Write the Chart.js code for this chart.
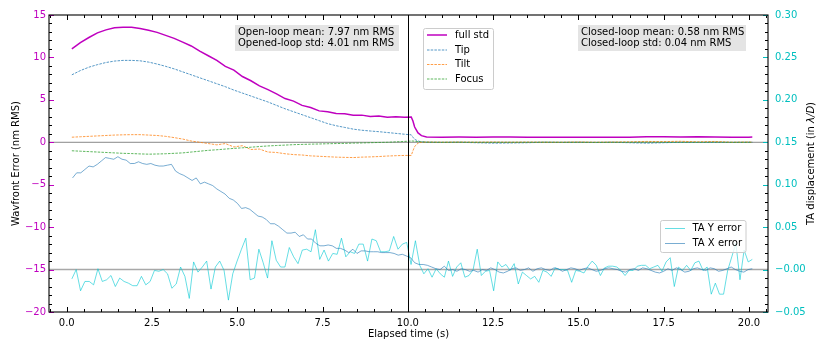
<!DOCTYPE html>
<html lang="en">
<head>
<meta charset="UTF-8">
<title>Wavefront error vs elapsed time</title>
<style>
    body { margin: 0; padding: 0; background: #fff; }
    #chart { display: block; }
</style>
<script src="https://cdn.jsdelivr.net/npm/chart.js"></script>
</head>
<body>
<canvas id="chart" width="830" height="351"></canvas>
<script>
    // wavefront modes (nm RMS), sampled along wfeTime
    const wfeTime = [0.15, 0.4, 0.65, 0.9, 1.15, 1.4, 1.65, 1.9, 2.15, 2.4, 2.65, 2.9, 3.15, 3.4, 3.65, 3.9,
        4.15, 4.4, 4.65, 4.9, 5.15, 5.4, 5.65, 5.9, 6.15, 6.4, 6.65, 6.9, 7.15, 7.4, 7.65, 7.9, 8.15, 8.4,
        8.65, 8.9, 9.15, 9.4, 9.65, 9.9, 10.1,
        10.15, 10.2, 10.3, 10.4, 10.55,
        11, 11.5, 12, 12.5, 13, 13.5, 14, 14.5, 15, 15.5, 16, 16.5, 17, 17.5, 18, 18.5, 19, 19.5, 20, 20.1];

    const fullStd = [11.0, 11.75, 12.35, 12.9, 13.25, 13.5, 13.57, 13.55, 13.42, 13.2, 12.95, 12.6, 12.25, 11.8,
        11.35, 10.75, 10.2, 9.65, 8.95, 8.5, 7.75, 7.25, 6.65, 6.2, 5.7, 5.15, 4.85, 4.35, 4.1, 3.7, 3.6, 3.4,
        3.35, 3.2, 3.2, 3.05, 3.1, 2.95, 3.0, 2.95, 2.98,
        2.5, 1.8, 1.1, 0.78, 0.63,
        0.6, 0.61, 0.6, 0.62, 0.63, 0.6, 0.6, 0.58, 0.58, 0.58, 0.6, 0.6, 0.66, 0.66, 0.63, 0.65, 0.62, 0.6, 0.6, 0.62];

    const tip = [7.95, 8.45, 8.85, 9.15, 9.4, 9.57, 9.65, 9.65, 9.6, 9.45, 9.22, 8.95, 8.65, 8.3, 7.95, 7.6,
        7.25, 6.9, 6.55, 6.15, 5.8, 5.45, 5.1, 4.75, 4.35, 3.95, 3.6, 3.25, 2.9, 2.55, 2.2, 1.95, 1.75, 1.55,
        1.42, 1.33, 1.25, 1.15, 1.05, 0.95, 0.88,
        0.6, 0.35, 0.15, 0.05, 0.0,
        -0.02, 0.0, -0.05, -0.1, -0.08, -0.05, 0.0, -0.02, 0.0, -0.03, 0.0, -0.05, -0.1, -0.05, 0.0, -0.02, 0.0, -0.02, 0.0, 0.0];

    const tilt = [0.6, 0.65, 0.7, 0.75, 0.8, 0.85, 0.88, 0.9, 0.9, 0.85, 0.8, 0.7, 0.55, 0.38, 0.15, 0.0,
        -0.15, -0.3, -0.15, -0.55, -0.4, -0.85, -0.8, -1.15, -1.2, -1.35, -1.45, -1.5, -1.6, -1.65, -1.7, -1.75,
        -1.78, -1.8, -1.75, -1.72, -1.68, -1.62, -1.58, -1.55, -1.55,
        -1.0, -0.5, -0.1, 0.0, 0.02,
        0.0, 0.02, 0.0, 0.03, 0.0, 0.02, 0.0, 0.0, 0.03, 0.0, 0.02, 0.05, 0.1, 0.08, 0.12, 0.05, 0.1, 0.0, 0.03, 0.0];

    const focus = [-1.0, -1.05, -1.1, -1.15, -1.2, -1.25, -1.3, -1.33, -1.37, -1.4, -1.38, -1.35, -1.3, -1.25,
        -1.15, -1.05, -0.95, -0.88, -0.8, -0.72, -0.65, -0.58, -0.5, -0.43, -0.38, -0.33, -0.28, -0.25, -0.22,
        -0.2, -0.17, -0.15, -0.13, -0.1, -0.08, -0.05, -0.02, 0.0, 0.05, 0.1, 0.15,
        0.15, 0.12, 0.08, 0.05, 0.02,
        0.0, 0.01, 0.0, -0.01, 0.0, 0.0, 0.01, 0.0, 0.0, -0.01, 0.0, 0.0, 0.01, 0.0, 0.0, 0.0, 0.01, 0.0, 0.0, 0.0];

    // tip/tilt tracking error (lambda/D), open loop then closed loop
    const taYOpen = [-0.011, 0.000, -0.025, -0.014, -0.014, -0.018, 0.001, -0.014, -0.012, -0.007,
        -0.020, -0.010, -0.014, -0.016, -0.019, -0.019, -0.008, -0.018, -0.014, -0.001,
        -0.002, 0.000, -0.005, -0.022, -0.017, 0.003, -0.008, -0.034, 0.009, -0.003,
        0.003, 0.010, -0.023, 0.003, 0.010, -0.001, -0.036, -0.005, 0.010, 0.024,
        0.037, -0.012, -0.010, 0.024, 0.008, -0.010, 0.034, 0.011, 0.003, 0.003,
        0.026, 0.015, 0.007, 0.023, 0.024, 0.021, 0.047, 0.012, 0.023, 0.010,
        0.019, 0.018, 0.037, 0.015, 0.021, 0.019, 0.030, 0.030, 0.010, 0.036,
        0.034, 0.021, 0.021, 0.022, 0.039, 0.024, 0.030, 0.032, 0.006, 0.034, 0.005];
    const taYClosed = [-0.005, 0.001, -0.009, 0.001, -0.005, -0.009, 0.010, -0.008, 0.003, 0.008,
        -0.009, -0.007, 0.000, 0.024, -0.007, -0.002, -0.001, -0.025, 0.009, 0.003,
        0.006, -0.001, 0.007, -0.017, -0.003, -0.007, -0.011, -0.008, -0.015, -0.001,
        -0.003, -0.008, 0.002, 0.000, 0.000, -0.001, -0.015, -0.001, -0.002, -0.004,
        0.004, 0.010, 0.005, -0.007, 0.002, 0.004, 0.004, 0.003, -0.001, -0.007,
        -0.001, -0.001, 0.004, 0.005, 0.005, 0.001, 0.003, 0.005, -0.002, 0.009,
        0.014, -0.020, 0.003, -0.001, 0.005, -0.001, 0.008, 0.010, -0.001, 0.003,
        -0.029, -0.016, -0.029, -0.029, -0.001, 0.015, 0.031, -0.012, 0.023, 0.009, 0.012];

    const taXOpen = [0.108, 0.114, 0.114, 0.118, 0.122, 0.121, 0.124, 0.128, 0.132, 0.131,
        0.130, 0.133, 0.130, 0.129, 0.125, 0.125, 0.127, 0.125, 0.124, 0.125,
        0.123, 0.122, 0.122, 0.123, 0.124,
        0.116, 0.113, 0.111, 0.108, 0.105, 0.108, 0.101, 0.103, 0.101, 0.099,
        0.095, 0.092, 0.089, 0.084, 0.082, 0.078, 0.072, 0.073, 0.071, 0.067,
        0.063, 0.062, 0.059, 0.054, 0.054, 0.051, 0.047, 0.043, 0.043, 0.044,
        0.039, 0.041, 0.036, 0.036, 0.031, 0.028, 0.028, 0.029, 0.028, 0.025,
        0.025, 0.023, 0.020, 0.024, 0.019, 0.022, 0.022, 0.021, 0.021, 0.021,
        0.020, 0.020, 0.020, 0.019, 0.017, 0.018, 0.016];
    const taXClosed = [0.014, 0.008, 0.006, 0.006, 0.005, 0.003, 0.001, 0.000, 0.004, -0.001,
        0.000, -0.002, 0.001, 0.000, -0.002, -0.001, -0.003, 0.000, -0.001, 0.002,
        0.000, -0.003, -0.004, -0.002, 0.001, 0.002, -0.001, 0.000, 0.002, -0.002,
        0.001, 0.002, 0.000, -0.001, 0.002, 0.001, -0.002, 0.000, 0.002, 0.001,
        -0.001, 0.001, 0.002, 0.000, -0.002, -0.001, 0.001, 0.002, 0.001, 0.000,
        -0.002, -0.003, 0.000, 0.001, -0.001, 0.002, 0.001, -0.001, -0.003, -0.004,
        -0.002, 0.001, -0.001, 0.002, 0.000, -0.003, -0.002, 0.001, 0.002, 0.000,
        -0.001, 0.002, 0.001, -0.002, -0.001, 0.001, 0.003, 0.000, -0.002, -0.003, 0.000, 0.001];

    const openStats = ['Open-loop mean: 7.97 nm RMS', 'Opened-loop std: 4.01 nm RMS'];
    const closedStats = ['Closed-loop mean: 0.58 nm RMS', 'Closed-loop std: 0.04 nm RMS'];
    const loopCloseTime = 10.0;

    // sensor samples are evenly spaced in time
    function evenTimes(t0, t1, n) {
        const out = [];
        for (let i = 0; i < n; i++) out.push(t0 + (t1 - t0) * i / (n - 1));
        return out;
    }
    const taYTime = evenTimes(0.15, 10.35, taYOpen.length).concat(evenTimes(10.47, 20.1, taYClosed.length));
    const taXTime = evenTimes(0.17, 9.96, taXOpen.length).concat(evenTimes(10.08, 20.1, taXClosed.length));
    const taYError = taYOpen.concat(taYClosed);
    const taXError = taXOpen.concat(taXClosed);

    const pts = (xs, ys) => xs.map((x, i) => ({ x: x, y: ys[i] }));

    const MAGENTA = '#bf00bf';
    const TEAL = '#00bfbf';
    const FONT = 'DejaVu Sans';

    function line(label, xs, ys, axis, color, width, dash) {
        return {
            label: label, data: pts(xs, ys), yAxisID: axis, showLine: true,
            borderColor: color, borderWidth: width, borderDash: dash || [],
            pointRadius: 0, fill: false, tension: 0
        };
    }

    // first dataset is drawn on top
    const datasets = [
        line('TA X error', taXTime, taXError, 'y2', 'rgba(31,119,180,0.6)', 1),
        line('TA Y error', taYTime, taYError, 'y2', 'rgba(0,200,210,0.6)', 1),
        line('Focus', wfeTime, focus, 'y', 'rgba(44,160,44,0.85)', 0.9, [2.5, 1.2]),
        line('Tilt', wfeTime, tilt, 'y', 'rgba(255,127,14,0.85)', 0.9, [2.5, 1.2]),
        line('Tip', wfeTime, tip, 'y', 'rgba(31,119,180,0.85)', 0.9, [2.5, 1.2]),
        line('full std', wfeTime, fullStd, 'y', MAGENTA, 1.5)
    ];

    function strokeLine(ctx, x1, y1, x2, y2) {
        ctx.beginPath();
        ctx.moveTo(x1, y1);
        ctx.lineTo(x2, y2);
        ctx.stroke();
    }

    function drawLegend(ctx, box, labels, rows, lineX, textX) {
        ctx.save();
        ctx.fillStyle = 'rgba(255,255,255,0.8)';
        ctx.strokeStyle = '#cccccc';
        ctx.lineWidth = 1;
        ctx.beginPath();
        ctx.roundRect(box[0], box[1], box[2] - box[0], box[3] - box[1], 2);
        ctx.fill();
        ctx.stroke();
        ctx.font = '10px "' + FONT + '"';
        ctx.textBaseline = 'middle';
        labels.forEach((lab, i) => {
            const ds = datasets.find(d => d.label === lab);
            ctx.strokeStyle = ds.borderColor;
            ctx.lineWidth = ds.borderWidth;
            ctx.setLineDash(ds.borderDash);
            strokeLine(ctx, lineX[0], rows[i], lineX[1], rows[i]);
            ctx.setLineDash([]);
            ctx.fillStyle = '#000';
            ctx.fillText(lab, textX, rows[i]);
        });
        ctx.restore();
    }

    function drawStatBox(ctx, box, lines) {
        ctx.save();
        ctx.fillStyle = '#e4e4e4';
        ctx.fillRect(box[0], box[1], box[2] - box[0], box[3] - box[1]);
        ctx.fillStyle = '#000';
        ctx.font = '10px "' + FONT + '"';
        ctx.textBaseline = 'middle';
        ctx.fillText(lines[0], box[0] + 3, box[1] + 7.5);
        ctx.fillText(lines[1], box[0] + 3, box[1] + 18);
        ctx.restore();
    }

    const decorations = {
        id: 'decorations',
        beforeDatasetsDraw(chart) {
            const { ctx, chartArea: a, scales } = chart;
            ctx.save();
            ctx.strokeStyle = '#888888';
            ctx.lineWidth = 1;
            strokeLine(ctx, a.left, scales.y.getPixelForValue(0), a.right, scales.y.getPixelForValue(0));
            ctx.strokeStyle = '#a8a8a8';
            ctx.lineWidth = 1.5;
            strokeLine(ctx, a.left, scales.y2.getPixelForValue(0), a.right, scales.y2.getPixelForValue(0));
            ctx.restore();
        },
        afterDatasetsDraw(chart) {
            const { ctx, chartArea: a, scales } = chart;
            const { x, y, y2 } = scales;
            ctx.save();

            // loop closing instant
            ctx.strokeStyle = '#000';
            ctx.lineWidth = 1;
            const xc = Math.round(x.getPixelForValue(loopCloseTime)) + 0.5;
            strokeLine(ctx, xc, a.top, xc, a.bottom);

            // inward ticks
            ctx.lineWidth = 1;
            for (let i = -1; i <= 41; i++) {
                const v = i * 0.5;
                if (v < x.min || v > x.max) continue;
                const px = Math.round(x.getPixelForValue(v)) + 0.5;
                const len = i % 5 === 0 ? 5 : 3;
                ctx.strokeStyle = '#000';
                strokeLine(ctx, px, a.bottom, px, a.bottom - len);
                strokeLine(ctx, px, a.top, px, a.top + len);
            }
            for (let v = -20; v <= 15; v++) {
                const py = Math.round(y.getPixelForValue(v)) + 0.5;
                const major = v % 5 === 0;
                ctx.strokeStyle = major ? MAGENTA : '#000';
                strokeLine(ctx, a.left, py, a.left + (major ? 5 : 3), py);
            }
            for (let i = -5; i <= 30; i++) {
                const py = Math.round(y2.getPixelForValue(i / 100)) + 0.5;
                const major = i % 5 === 0;
                ctx.strokeStyle = major ? TEAL : '#000';
                strokeLine(ctx, a.right, py, a.right - (major ? 5 : 3), py);
            }

            // frame
            ctx.strokeStyle = '#000';
            ctx.lineWidth = 1.1;
            ctx.strokeRect(a.left, a.top, a.right - a.left, a.bottom - a.top);

            // rotated axis titles
            const cy = (a.top + a.bottom) / 2;
            ctx.fillStyle = '#000';
            ctx.textBaseline = 'middle';
            ctx.font = '10px "' + FONT + '"';
            ctx.save();
            ctx.translate(16, cy);
            ctx.rotate(-Math.PI / 2);
            ctx.textAlign = 'center';
            ctx.fillText('Wavfront Error (nm RMS)', 0, 0);
            ctx.restore();

            const p1 = 'TA displacement (in ', p2 = '\u03bb/D', p3 = ')';
            const italic = 'italic 10px "' + FONT + '"';
            const plain = '10px "' + FONT + '"';
            ctx.font = plain;
            const w1 = ctx.measureText(p1).width, w3 = ctx.measureText(p3).width;
            ctx.font = italic;
            const w2 = ctx.measureText(p2).width;
            ctx.save();
            ctx.translate(811, cy);
            ctx.rotate(-Math.PI / 2);
            let sx = -(w1 + w2 + w3) / 2;
            ctx.font = plain; ctx.fillText(p1, sx, 0); sx += w1;
            ctx.font = italic; ctx.fillText(p2, sx, 0); sx += w2;
            ctx.font = plain; ctx.fillText(p3, sx, 0);
            ctx.restore();

            drawStatBox(ctx, [235, 25, 399, 51], openStats);
            drawStatBox(ctx, [578, 25, 746, 51], closedStats);
            drawLegend(ctx, [423.5, 28.5, 493.5, 89.5], ['full std', 'Tip', 'Tilt', 'Focus'],
                [35, 50, 64.5, 79], [427, 447], 455);
            drawLegend(ctx, [660.5, 220.5, 746, 252.5], ['TA Y error', 'TA X error'],
                [228.5, 243.5], [665, 685], 692.5);
            ctx.restore();
        }
    };

    const tickFont = { family: FONT, size: 10 };
    const minus = s => s.replace('-', '\u2212');

    new Chart(document.getElementById('chart'), {
        type: 'scatter',
        data: { datasets: datasets },
        options: {
            responsive: false,
            animation: false,
            layout: { padding: { top: 15, left: 0, right: 0, bottom: 0 } },
            plugins: { legend: { display: false }, tooltip: { enabled: false } },
            scales: {
                x: {
                    type: 'linear', min: -0.52, max: 20.56,
                    afterFit: s => { s.height = 39; },
                    grid: { display: false, drawTicks: false },
                    border: { display: false },
                    ticks: {
                        stepSize: 2.5, includeBounds: false, padding: 5, color: '#000', font: tickFont,
                        maxRotation: 0, autoSkip: false, callback: v => v.toFixed(1)
                    },
                    title: { display: true, text: 'Elapsed time (s)', color: '#000', font: tickFont, padding: { top: 0, bottom: 11 } }
                },
                y: {
                    position: 'left', min: -20, max: 15,
                    afterFit: s => { s.width = 49; },
                    grid: { display: false, drawTicks: false },
                    border: { display: false },
                    ticks: { stepSize: 5, padding: 3, color: MAGENTA, font: tickFont, callback: v => minus(String(v)) }
                },
                y2: {
                    position: 'right', min: -0.05, max: 0.30,
                    afterFit: s => { s.width = 62; },
                    grid: { display: false, drawTicks: false },
                    border: { display: false },
                    ticks: { stepSize: 0.05, padding: 7, color: TEAL, font: tickFont, callback: v => minus(v.toFixed(2)) }
                }
            }
        },
        plugins: [decorations]
    });
</script>
</body>
</html>
